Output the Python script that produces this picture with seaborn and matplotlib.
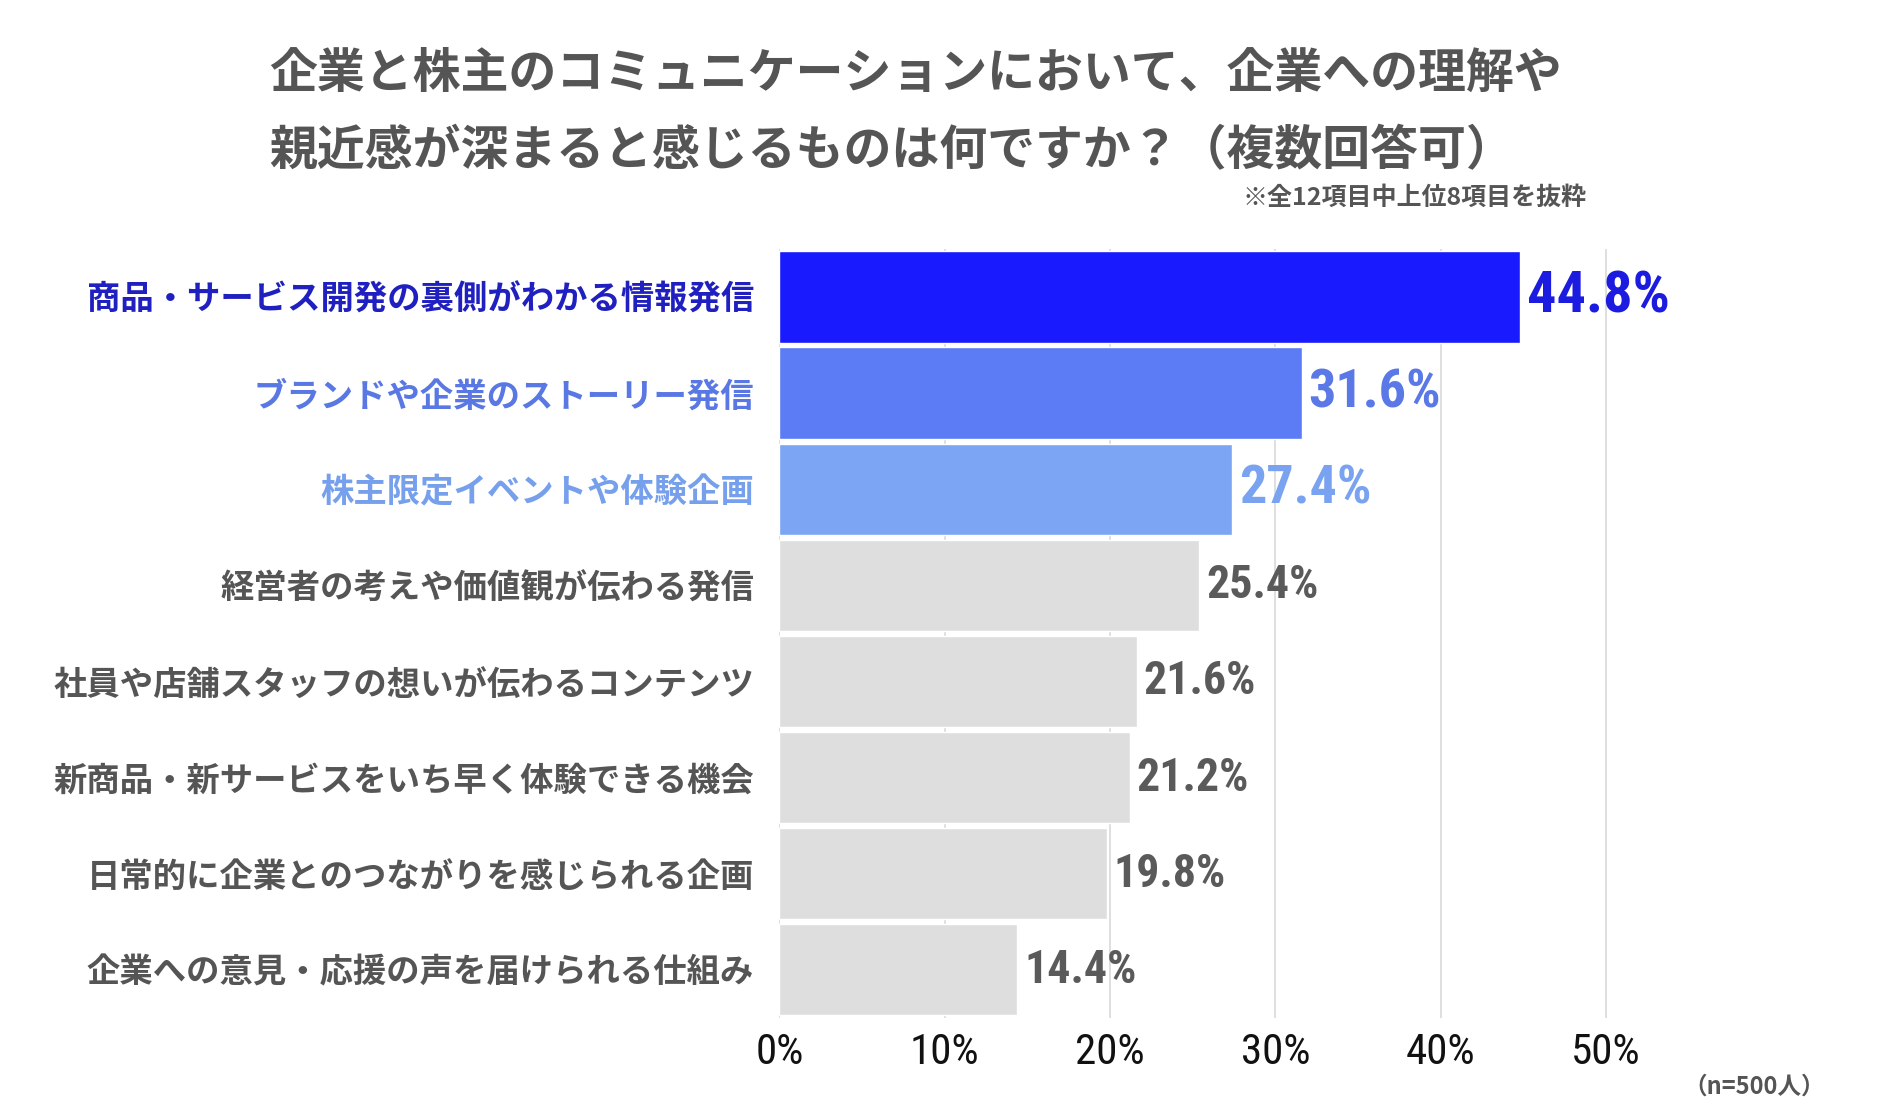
import matplotlib
matplotlib.use("Agg")
import matplotlib.pyplot as plt
from matplotlib import font_manager
import seaborn as sns
import pandas as pd

categories = [
    "商品・サービス開発の裏側がわかる情報発信",
    "ブランドや企業のストーリー発信",
    "株主限定イベントや体験企画",
    "経営者の考えや価値観が伝わる発信",
    "社員や店舗スタッフの想いが伝わるコンテンツ",
    "新商品・新サービスをいち早く体験できる機会",
    "日常的に企業とのつながりを感じられる企画",
    "企業への意見・応援の声を届けられる仕組み",
]
values = [44.8, 31.6, 27.4, 25.4, 21.6, 21.2, 19.8, 14.4]
tick_values = [0, 10, 20, 30, 40, 50]
tick_labels = ["0%", "10%", "20%", "30%", "40%", "50%"]
title_lines = ["企業と株主のコミュニケーションにおいて、企業への理解や",
               "親近感が深まると感じるものは何ですか？（複数回答可）"]
note_text = "※全12項目中上位8項目を抜粋"
n_text = "（n=500人）"

bar_colors = ["#1a1aff", "#5c7cf5", "#7ca5f4"] + ["#dedede"] * 5
label_colors = ["#2020c0", "#5a78e4", "#77a0ec"] + ["#555555"] * 5
value_colors = ["#1c1ce0", "#5a78e6", "#79a3f0"] + ["#5a5a5a"] * 5

sns.set_theme(style="white")
CJK = ["Noto Sans CJK JP", "DejaVu Sans"]
plt.rcParams["font.family"] = CJK


def has_font(name):
    try:
        font_manager.findfont(font_manager.FontProperties(family=name),
                              fallback_to_default=False)
        return True
    except Exception:
        return False


narrow = None
for cand in ["Liberation Sans Narrow", "DejaVu Sans Condensed", "Roboto Condensed"]:
    if has_font(cand):
        narrow = cand
        break

if narrow is not None:
    NUM = [narrow, "Noto Sans CJK JP"]
    value_sizes = [42, 39, 39, 33, 33, 33, 33, 33]
    tick_size = 31
else:
    NUM = ["Noto Sans CJK JP", "DejaVu Sans"]
    value_sizes = [36, 34, 34, 28, 28, 28, 28, 28]
    tick_size = 28

df = pd.DataFrame({"category": categories, "value": values})

fig = plt.figure(figsize=(18.87, 11.13), dpi=100)
ax = fig.add_axes([0.413, 0.0855, 0.4855, 0.6908])

sns.barplot(data=df, y="category", x="value", hue="category",
            palette=bar_colors, orient="h", width=0.95, legend=False,
            saturation=1, ax=ax, zorder=2)

ax.set_xlim(0, 55.4)
ax.set_ylim(len(categories) - 0.5, -0.5)
ax.set_xticks(tick_values)
ax.set_xticklabels(tick_labels, fontsize=tick_size, family=NUM, color="#111111")
ax.tick_params(axis="x", length=0, pad=10)
ax.tick_params(axis="y", length=0, pad=18)
ax.set_yticks(range(len(categories)))
ax.set_yticklabels(categories, fontsize=24, fontweight="bold")
for lbl, c in zip(ax.get_yticklabels(), label_colors):
    lbl.set_color(c)
ax.set_xlabel("")
ax.set_ylabel("")
for s in ax.spines.values():
    s.set_visible(False)
ax.xaxis.grid(True, color="#d9d9d9", linewidth=1.2, zorder=0)
ax.set_axisbelow(True)

for i, v in enumerate(values):
    ax.text(v + 0.4, i, f"{v:.1f}%", va="center", ha="left",
            fontsize=value_sizes[i], fontweight="bold", family=NUM,
            color=value_colors[i])

fig.text(269 / 1887, 1 - 73 / 1113, title_lines[0], fontsize=34.5,
         fontweight="bold", color="#555555", ha="left", va="center")
fig.text(269 / 1887, 1 - 151 / 1113, title_lines[1], fontsize=34.5,
         fontweight="bold", color="#555555", ha="left", va="center")
fig.text(1587 / 1887, 1 - 198 / 1113, note_text, fontsize=18,
         fontweight="bold", color="#555555", ha="right", va="center")
fig.text(1825 / 1887, 1 - 1087 / 1113, n_text, fontsize=17,
         fontweight="bold", color="#555555", ha="right", va="center")

fig.savefig("out.png", dpi=100, facecolor="white")
